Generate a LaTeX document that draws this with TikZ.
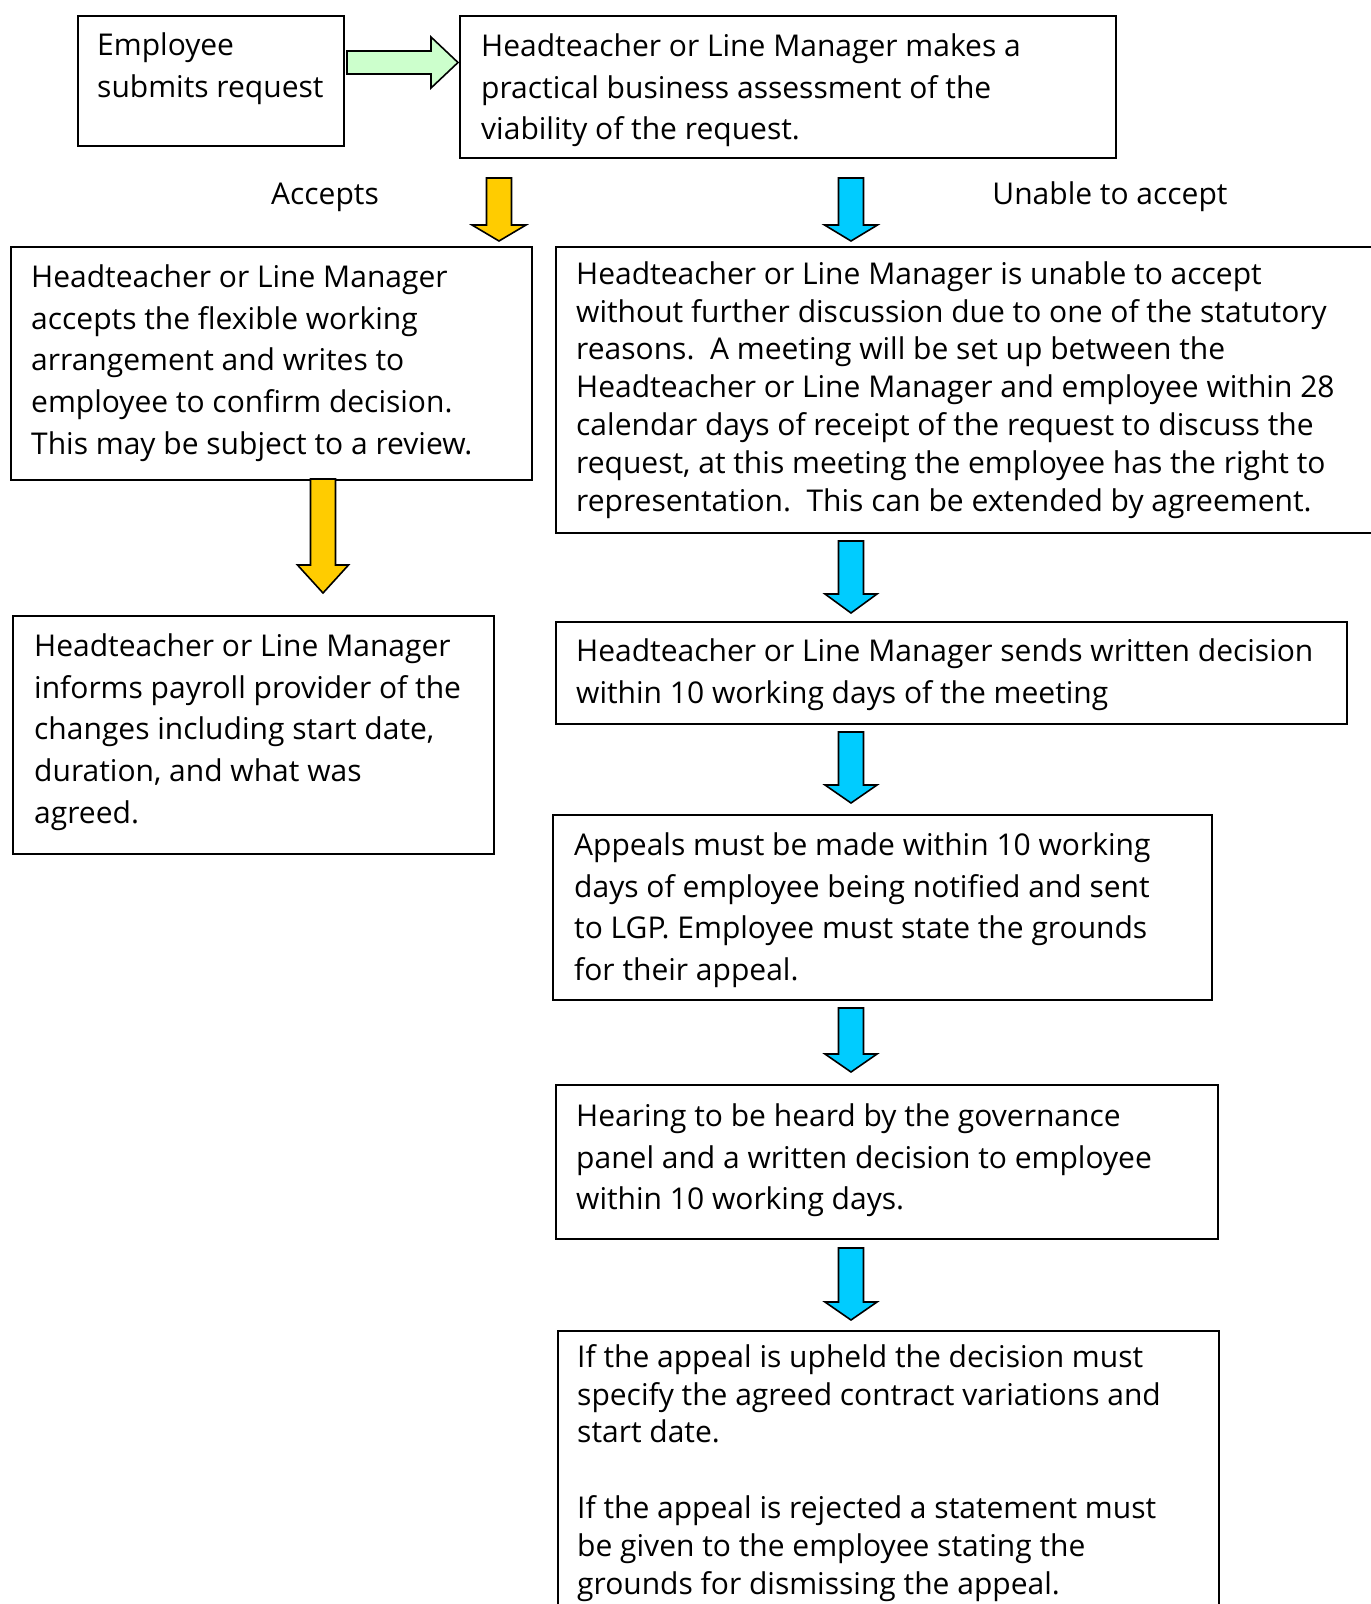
\documentclass[tikz,border=0pt]{standalone}
\usepackage{fontspec}
\setmainfont{Open Sans}
\definecolor{mint}{HTML}{CCFFCC}
\definecolor{gold}{HTML}{FFCC00}
\definecolor{sky}{HTML}{00CCFF}
\newcommand\firstline{\rule{0pt}{30pt}}
\tikzset{
  box/.style={draw=black, line width=2pt, inner sep=0pt, anchor=north west},
  txt/.style={anchor=north west, inner sep=0pt, align=left, font=\fontsize{30}{41.8}\selectfont},
  tight/.style={font=\fontsize{30}{37.8}\selectfont},
  lbl/.style={inner sep=0pt, font=\fontsize{30}{34}\selectfont},
  blk/.style={draw=black, line width=1.6pt, line join=miter},
}
% #1 style, #2 name, #3 x centre, #4 top y, #5 head base y, #6 tip y, #7 shaft half, #8 head half
\newcommand\dnarrow[8]{%
  \coordinate (#2) at (#3,#4);
  \draw[#1] (#3-#7,#4) -- (#3+#7,#4) -- (#3+#7,#5) -- (#3+#8,#5) -- (#3,#6)
    -- (#3-#8,#5) -- (#3-#7,#5) -- cycle;}
\begin{document}
\begin{tikzpicture}[x=1pt,y=-1pt]
\clip (0,0) rectangle (1371,1604);
\fill[white] (0,0) rectangle (1371,1604);
% boxes
\node[box, minimum width=266pt, minimum height=130pt] (b1) at (77,15) {};
\node[box, minimum width=656pt, minimum height=142pt] (b2) at (459,15) {};
\node[box, minimum width=521pt, minimum height=233pt] (b3) at (10,246) {};
\node[box, minimum width=830pt, minimum height=286pt] (b4) at (555,246) {};
\node[box, minimum width=481pt, minimum height=238pt] (b5) at (12,615) {};
\node[box, minimum width=791pt, minimum height=102pt] (b6) at (555,621) {};
\node[box, minimum width=659pt, minimum height=185pt] (b7) at (552,814) {};
\node[box, minimum width=662pt, minimum height=154pt] (b8) at (555,1084) {};
\node[box, minimum width=661pt, minimum height=300pt] (b9) at (557,1330) {};
% texts (placed at first baseline minus 30)
\node[txt] (t1) at (97,55-30) {\firstline Employee\\submits request};
\node[txt] (t2) at (481,56-30) {\firstline Headteacher or Line Manager makes a\\practical business assessment of the\\viability of the request.};
\node[txt] (t3) at (31,287-30) {\firstline Headteacher or Line Manager\\accepts the flexible working\\arrangement and writes to\\employee to confirm decision.\\This may be subject to a review.};
\node[txt, tight] (t4) at (576,284-30) {\firstline Headteacher or Line Manager is unable to accept\\without further discussion due to one of the statutory\\reasons.\ \ A meeting will be set up between the\\Headteacher or Line Manager and employee within 28\\calendar days of receipt of the request to discuss the\\request, at this meeting the employee has the right to\\representation.\ \ This can be extended by agreement.};
\node[txt] (t5) at (34,656-30) {\firstline Headteacher or Line Manager\\informs payroll provider of the\\changes including start date,\\duration, and what was\\agreed.};
\node[txt] (t6) at (576,661-30) {\firstline Headteacher or Line Manager sends written decision\\within 10 working days of the meeting};
\node[txt] (t7) at (574,855-30) {\firstline Appeals must be made within 10 working\\days of employee being notified and sent\\to LGP. Employee must state the grounds\\for their appeal.};
\node[txt] (t8) at (576,1126-30) {\firstline Hearing to be heard by the governance\\panel and a written decision to employee\\within 10 working days.};
\node[txt, tight] (t9) at (577,1367-30) {\firstline If the appeal is upheld the decision must\\specify the agreed contract variations and\\start date.\\[37.8pt]If the appeal is rejected a statement must\\be given to the employee stating the\\grounds for dismissing the appeal.};
% labels
\node[lbl] (acc) at (325,197) {Accepts};
\node[lbl] (una) at (1110,197) {Unable to accept};
% green arrow
\coordinate (g0) at (347,62.5);
\draw[blk, fill=mint] (g0) ++(0,-11.5) -- (431,51) -- (431,37) -- (458,62.5) -- (431,88) -- (431,74) -- (347,74) -- cycle;
% down arrows
\dnarrow{blk, fill=gold}{y1}{499}{178}{225}{241}{12.5}{27}
\dnarrow{blk, fill=sky}{u1}{851}{178}{225}{241}{12.5}{26.5}
\dnarrow{blk, fill=gold}{y2}{323}{479}{565}{593}{12.5}{25.5}
\dnarrow{blk, fill=sky}{u2}{851}{541}{594}{613}{12.5}{26}
\dnarrow{blk, fill=sky}{u3}{851}{732}{785}{803}{12.5}{26}
\dnarrow{blk, fill=sky}{u4}{851}{1008}{1054}{1072}{12.5}{26}
\dnarrow{blk, fill=sky}{u5}{851}{1248}{1302}{1320}{12.5}{26}
\end{tikzpicture}
\end{document}
